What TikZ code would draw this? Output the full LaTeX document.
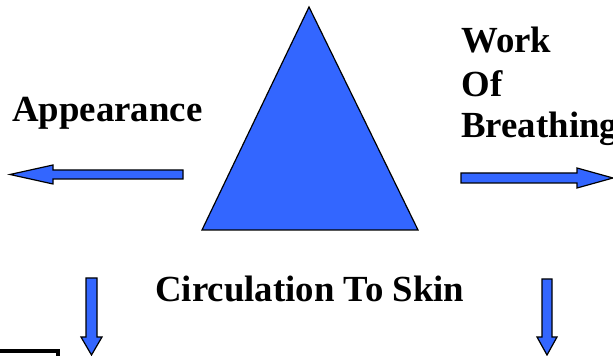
\documentclass[tikz,border=0pt]{standalone}
\usepackage{fontspec}
\setmainfont{Liberation Serif}
\definecolor{tribl}{HTML}{3366FF}
\usetikzlibrary{positioning}

\begin{document}
\begin{tikzpicture}[x=0.5pt, y=-0.5pt,
    lbl/.style={font=\fontsize{18.4}{22}\selectfont\bfseries,
                inner sep=0pt, anchor=base west},
    barr/.style={fill=tribl, draw=black, line width=0.6pt, line join=miter},
    tri/.style={fill=tribl, draw=black, line width=0.6pt}
  ]
  \useasboundingbox (0,0) rectangle (613,356);
  \clip (0,0) rectangle (613,356);

  % triangle
  \draw[tri] (309,7) -- (202,230) -- (418,230) -- cycle;

  % labels
  \node[lbl] (appear) at (12,122) {Appearance};
  \node[lbl] (work)   at (461,53) {Work};
  \node[lbl] (of)     at (461,97) {Of};
  \node[lbl] (breath) at (461,138) {Breathing};
  \node[lbl] (circ)   at (155,302) {Circulation To Skin};

  % block arrows
  \draw[barr] (183,170) -- (53,170) -- (53,165) -- (10,174.5)
              -- (53,184) -- (53,179) -- (183,179) -- cycle;
  \draw[barr] (461,173) -- (577,173) -- (577,168) -- (613,178)
              -- (577,188) -- (577,183) -- (461,183) -- cycle;
  \draw[barr] (86,278) -- (86,337) -- (81,337) -- (91.5,355)
              -- (102,337) -- (97,337) -- (97,278) -- cycle;
  \draw[barr] (542,279) -- (542,337) -- (537,337) -- (547,355)
              -- (557,337) -- (552,337) -- (552,279) -- cycle;

  % box corner
  \draw[line width=2pt] (-10,351) -- (58,351) -- (58,380);
\end{tikzpicture}
\end{document}
